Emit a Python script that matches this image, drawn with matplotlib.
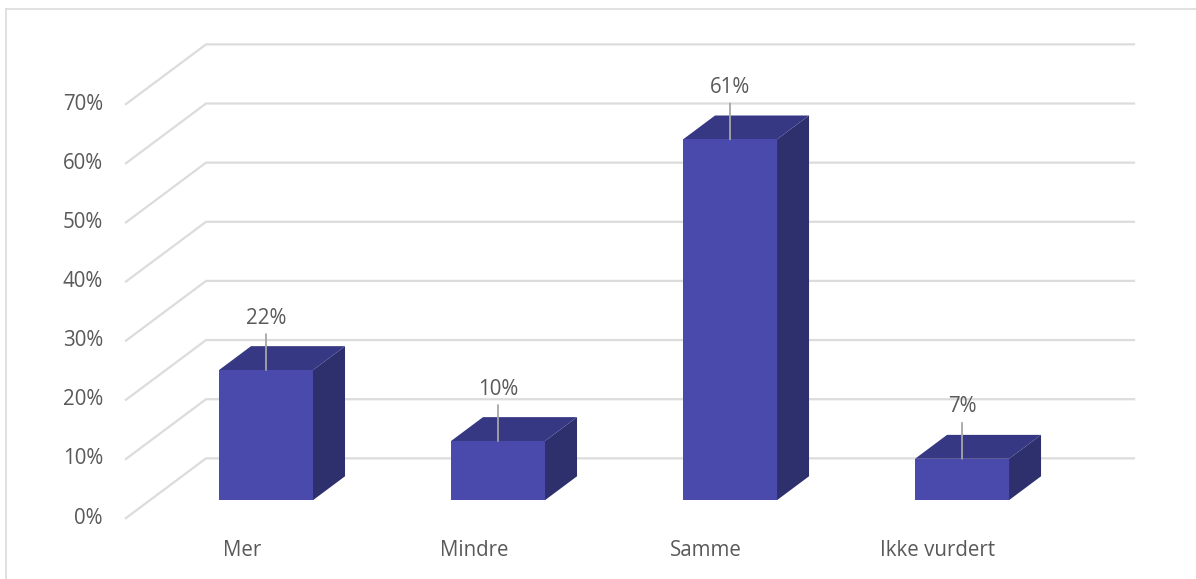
import matplotlib.pyplot as plt
from matplotlib.patches import Polygon

# survey answers, share of respondents (%)
categories = ["Mer", "Mindre", "Samme", "Ikke vurdert"]
shares = [22, 10, 61, 7]
ticks = [0, 10, 20, 30, 40, 50, 60, 70]

FRONT = "#494aab"
TOP = "#373883"
SIDE = "#2e2f6d"
GRID = "#dcdcdc"
TEXT = "#595959"

# oblique projection of the depth axis (d=0 front, d=1 back wall)
DX, DY = 0.345, 10.1


def proj(x, y, d):
    return (x + d * DX, y + d * DY)


plt.rcParams['font.family'] = ['Open Sans', 'DejaVu Sans']

fig = plt.figure(figsize=(11.96, 5.79), dpi=100)
ax = fig.add_axes([0, 0, 1, 1])
ax.set_xlim(-1.043, 4.112)
ax.set_ylim(-10.3, 87.6)
ax.axis('off')

x0, x1 = -0.5, len(categories) - 0.5

# back wall + left side wall gridlines
for t in ticks:
    pts = [proj(x0, t, 0), proj(x0, t, 1), proj(x1, t, 1)]
    ax.plot([p[0] for p in pts], [p[1] for p in pts], color=GRID, lw=1.6,
            solid_joinstyle='miter', zorder=1)
    ax.annotate(f"{t}%", xy=(x0, t), xytext=(-23, 0), textcoords='offset pixels',
                ha='right', va='center', fontsize=14.8, color=TEXT)

# bars as boxes between depth 0.3 and 0.7
hw = 47 / 232
d0, d1 = 0.3, 0.7
for i, (cat, v) in enumerate(zip(categories, shares)):
    l, r = i - hw, i + hw
    front = [proj(l, 0, d0), proj(r, 0, d0), proj(r, v, d0), proj(l, v, d0)]
    top = [proj(l, v, d0), proj(r, v, d0), proj(r, v, d1), proj(l, v, d1)]
    side = [proj(r, 0, d0), proj(r, 0, d1), proj(r, v, d1), proj(r, v, d0)]
    ax.add_patch(Polygon(side, closed=True, fc=SIDE, ec='none', zorder=3))
    ax.add_patch(Polygon(top, closed=True, fc=TOP, ec='none', zorder=3))
    ax.add_patch(Polygon(front, closed=True, fc=FRONT, ec='none', zorder=4))

    # value label with leader line
    cx, cy = proj(i, v, d0)
    ax.annotate(f"{v}%", xy=(cx, cy), xytext=(0, 52), textcoords='offset pixels',
                ha='center', va='center', fontsize=14.8, color=TEXT, zorder=5,
                arrowprops=dict(arrowstyle='-', color='#a6a6a6', lw=1.3,
                                shrinkA=2, shrinkB=0))

    ax.annotate(cat, xy=(i, 0), xytext=(0, -32), textcoords='offset pixels',
                ha='center', va='center', fontsize=14.8, color=TEXT)

# chart area border (top and left edges)
fig.add_artist(plt.Line2D([6 / 1196, 6 / 1196], [0, 1 - 8.5 / 579],
                          transform=fig.transFigure, color=GRID, lw=1.2))
fig.add_artist(plt.Line2D([6 / 1196, 1], [1 - 8.5 / 579, 1 - 8.5 / 579],
                          transform=fig.transFigure, color=GRID, lw=1.2))

fig.savefig("out.png", dpi=100, facecolor='white')
